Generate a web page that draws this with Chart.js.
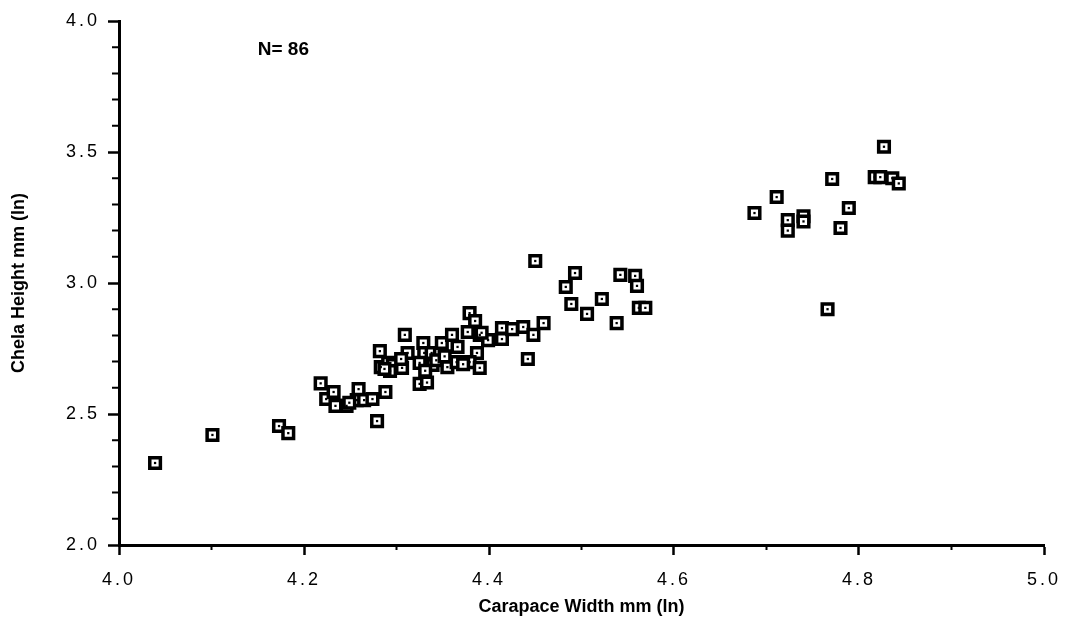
<!DOCTYPE html>
<html>
<head>
<meta charset="utf-8">
<title>Chela height vs carapace width</title>
<script src="https://cdn.jsdelivr.net/npm/chart.js@4.4.0/dist/chart.umd.min.js"></script>
<style>
  html, body { margin: 0; padding: 0; background: #fff; }
  #wrap { width: 1066px; height: 628px; }
</style>
</head>
<body>
<div id="wrap"><canvas id="chelaChart" width="1066" height="628"></canvas></div>
<script>
// ln carapace width / ln chela height (86 crabs)
const carapaceWidth = [
  4.039, 4.101, 4.173, 4.183, 4.218, 4.224, 4.232, 4.234, 4.246, 4.259,
  4.257, 4.265, 4.274, 4.288, 4.279, 4.282, 4.283, 4.291, 4.296, 4.306,
  4.293, 4.309, 4.312, 4.329, 4.330, 4.325, 4.325, 4.333, 4.338, 4.347,
  4.349, 4.339, 4.355, 4.360, 4.366, 4.365, 4.379, 4.385, 4.377, 4.390,
  4.399, 4.387, 4.379, 4.390, 4.414, 4.414, 4.425, 4.437, 4.448, 4.459,
  4.442, 4.450, 4.493, 4.483, 4.489, 4.506, 4.522, 4.538, 4.542, 4.558,
  4.560, 4.562, 4.569, 4.687, 4.711, 4.723, 4.723, 4.740, 4.740, 4.771,
  4.789, 4.780, 4.766, 4.817, 4.823, 4.827, 4.836, 4.843, 4.287, 4.343,
  4.352, 4.372, 4.331, 4.249, 4.392, 4.305
];
const chelaHeight = [
  2.313, 2.420, 2.454, 2.427, 2.617, 2.557, 2.584, 2.531, 2.531, 2.595,
  2.553, 2.553, 2.557, 2.584, 2.473, 2.740, 2.679, 2.695, 2.687, 2.676,
  2.664, 2.802, 2.733, 2.771, 2.733, 2.695, 2.615, 2.620, 2.733, 2.733,
  2.771, 2.687, 2.679, 2.802, 2.756, 2.698, 2.885, 2.855, 2.813, 2.802,
  2.782, 2.733, 2.698, 2.676, 2.828, 2.786, 2.824, 2.832, 2.802, 2.847,
  2.710, 3.084, 3.038, 2.985, 2.920, 2.882, 2.939, 2.847, 3.031, 3.027,
  2.989, 2.905, 2.905, 3.267, 3.328, 3.240, 3.200, 3.255, 3.235, 3.397,
  3.286, 3.210, 2.900, 3.404, 3.404, 3.520, 3.400, 3.380, 2.672, 2.705,
  2.720, 2.690, 2.665, 2.543, 2.810, 2.710
];

const xMinorTicks = [4.1, 4.3, 4.5, 4.7, 4.9];
const yMinorTicks = [2.1, 2.2, 2.3, 2.4, 2.6, 2.7, 2.8, 2.9, 3.1, 3.2, 3.3, 3.4, 3.6, 3.7, 3.8, 3.9];
const sampleLabel = 'N= 86';

const points = carapaceWidth.map((w, i) => ({ x: w, y: chelaHeight[i] }));

const tickFont = { family: '"Liberation Sans", Arial, sans-serif', size: 18 };
const titleFont = { family: '"Liberation Sans", Arial, sans-serif', size: 18, weight: 'bold' };

// minor ticks + the N annotation, placed through the scales
const extras = {
  id: 'extras',
  afterDatasetsDraw(chart) {
    // tick labels (z: 1) are drawn after this, widely spaced like the original
    chart.ctx.letterSpacing = '3px';
  },
  afterDraw(chart) {
    const { ctx, scales: { x, y } } = chart;
    ctx.save();
    ctx.letterSpacing = '0px';
    ctx.strokeStyle = '#000';
    ctx.lineWidth = 2;
    ctx.beginPath();
    xMinorTicks.forEach(v => {
      const px = x.getPixelForValue(v);
      ctx.moveTo(px, x.top);
      ctx.lineTo(px, x.top + 5);
    });
    yMinorTicks.forEach(v => {
      const py = y.getPixelForValue(v);
      ctx.moveTo(y.right, py);
      ctx.lineTo(y.right - 7, py);
    });
    ctx.stroke();

    ctx.fillStyle = '#000';
    ctx.font = 'bold 19px "Liberation Sans", Arial, sans-serif';
    ctx.textBaseline = 'middle';
    ctx.fillText(sampleLabel, x.getPixelForValue(4.15), y.getPixelForValue(3.89));
    ctx.restore();
    ctx.letterSpacing = '0px';
  }
};

new Chart(document.getElementById('chelaChart'), {
  type: 'scatter',
  data: {
    datasets: [
      {
        // centre dot of each marker
        data: points,
        pointStyle: 'rect',
        pointRadius: 1.6,
        pointBorderWidth: 0,
        pointBackgroundColor: '#000'
      },
      {
        data: points,
        pointStyle: 'rect',
        pointRadius: 7.5,
        pointBorderWidth: 3.5,
        pointBorderColor: '#000',
        pointBackgroundColor: '#fff'
      }
    ]
  },
  options: {
    responsive: false,
    animation: false,
    devicePixelRatio: 1,
    layout: { autoPadding: false, padding: { top: 21, right: 22, left: 0, bottom: 0 } },
    plugins: {
      legend: { display: false },
      tooltip: { enabled: false }
    },
    scales: {
      x: {
        type: 'linear',
        min: 4,
        max: 5,
        afterFit: s => { s.height = 83; s.paddingLeft = 0; s.paddingRight = 0; },
        ticks: {
          stepSize: 0.2,
          z: 1,
          color: '#000',
          font: tickFont,
          padding: 14,
          callback: v => v.toFixed(1)
        },
        grid: {
          drawOnChartArea: false,
          drawTicks: true,
          tickLength: 10,
          tickWidth: 2.5,
          tickColor: '#000'
        },
        border: { color: '#000', width: 3 },
        title: {
          display: true,
          text: 'Carapace Width mm (ln)',
          color: '#000',
          font: titleFont,
          padding: { top: 0, bottom: 10 }
        }
      },
      y: {
        type: 'linear',
        min: 2,
        max: 4,
        afterFit: s => { s.width = 119; s.paddingTop = 0; s.paddingBottom = 0; },
        ticks: {
          stepSize: 0.5,
          z: 1,
          color: '#000',
          font: tickFont,
          padding: 8,
          callback: v => v.toFixed(1)
        },
        grid: {
          drawOnChartArea: false,
          drawTicks: true,
          tickLength: 11,
          tickWidth: 2.5,
          tickColor: '#000'
        },
        border: { color: '#000', width: 3 },
        title: {
          display: true,
          text: 'Chela Height mm (ln)',
          color: '#000',
          font: titleFont,
          padding: { top: 8, bottom: 0 }
        }
      }
    }
  },
  plugins: [extras]
});
</script>
</body>
</html>
